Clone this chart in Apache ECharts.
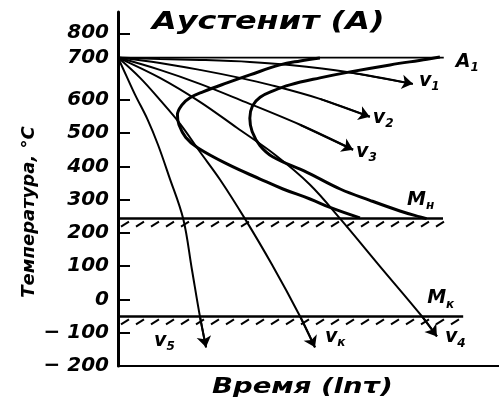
<!DOCTYPE html>
<html>
<head>
<meta charset="utf-8">
<script src="https://cdn.jsdelivr.net/npm/echarts@6/dist/echarts.min.js"></script>
<style>
html, body { margin: 0; padding: 0; background: #fff; }
#chart { width: 499px; height: 401px; }
</style>
</head>
<body>
<div id="chart"></div>
<script>
// шкала температур, °C (700 подписано у линии A1 = 727)
const yTickValues = [-100, 0, 100, 200, 300, 400, 500, 600, 800]
const yLabelValues = [-200, -100, 0, 100, 200, 300, 400, 500, 600, 727, 800]
const yLabelTexts = ['− 200', '− 100', '0', '100', '200', '300', '400', '500', '600', '700', '800']

// горизонтали: [время ln τ, температура]
const a1Line = [[0, 727], [8.55, 727]]
const mnLine = [[0, 243], [8.53, 243]]
const mkLine = [[0, -51], [9.06, -51]]

// С-образные кривые: начало и конец превращения
const startCurve = [[5.30, 726], [4.78, 717], [4.25, 705], [3.46, 675], [2.86, 651], [2.23, 624], [1.89, 606], [1.68, 585], [1.56, 555], [1.60, 525], [1.78, 487], [2.10, 455], [2.90, 405], [3.73, 362], [4.33, 332], [5.04, 302], [5.60, 275], [6.35, 245]]
const endCurve = [[8.45, 729], [8.11, 722], [7.14, 705], [6.09, 684], [5.30, 666], [4.51, 645], [4.07, 627], [3.73, 608], [3.53, 582], [3.46, 545], [3.52, 505], [3.73, 462], [4.07, 428], [4.96, 382], [5.83, 332], [6.61, 298], [7.40, 266], [7.93, 248], [8.10, 243]]

// кривые охлаждения
const v1 = [[0, 727], [1.10, 723], [2.15, 720], [3.46, 714], [4.51, 705], [6.01, 684], [7.74, 648]]
const v2 = [[0, 727], [1.10, 711], [2.15, 690], [3.20, 666], [3.99, 645], [5.30, 603], [6.61, 549]]
const v3 = [[0, 727], [1.10, 690], [2.15, 648], [3.20, 600], [4.78, 525], [6.17, 450]]
const v4 = [[0, 727], [1.10, 666], [2.15, 594], [3.12, 516], [4.12, 435], [5.04, 345], [5.83, 243], [6.88, 99], [7.98, -51], [8.37, -111]]
const vk = [[0, 727], [0.58, 666], [1.10, 600], [1.63, 528], [2.15, 444], [2.68, 360], [3.33, 243], [4.04, 105], [4.78, -51], [5.17, -144]]
const v5 = [[0, 727], [0.22, 672], [0.45, 615], [0.78, 540], [1.05, 465], [1.34, 370], [1.71, 243], [1.94, 90], [2.15, -51], [2.31, -144]]

const FONT = 'DejaVu Sans'
const txt = { fontFamily: FONT, fontStyle: 'italic', fontWeight: 'bold', color: '#000' }
const rich = {
	v: { ...txt, fontSize: 19 },
	s: { ...txt, fontSize: 12, padding: [12, 0, 0, 0] },
}

const chart = echarts.init(document.getElementById('chart'))

const coolLine = (data, sub, offset) => ({
	type: 'line',
	data,
	smooth: 0.35,
	showSymbol: false,
	silent: true,
	lineStyle: { color: '#000', width: 2 },
	endLabel: {
		show: true,
		distance: 0,
		offset,
		formatter: '{v|' + sub[0] + '}{s|' + sub.slice(1) + '}',
		rich,
	},
})

const flatLine = (data, width, label, offset) => ({
	type: 'line',
	data,
	showSymbol: false,
	silent: true,
	lineStyle: { color: '#000', width },
	endLabel: {
		show: true,
		distance: 0,
		offset,
		formatter: '{v|' + label[0] + '}{s|' + label.slice(1) + '}',
		rich,
	},
})

// штриховка под линиями Mн и Mк
const hatch = (params, api) => {
	const p0 = api.coord([api.value(1), api.value(0)])
	const p1 = api.coord([api.value(2), api.value(0)])
	const children = []
	for (let x = p0[0] + 3; x < p1[0] - 6; x += 15) {
		children.push({
			type: 'line',
			shape: { x1: x, y1: p0[1] + 8, x2: x + 8, y2: p0[1] + 3 },
			style: { stroke: '#000', lineWidth: 2 },
		})
	}
	return { type: 'group', children }
}

const arrows = [v1, v2, v3, v4, vk, v5].map((a) => ({ coords: [a[a.length - 2], a[a.length - 1]] }))

chart.setOption({
	animation: false,
	graphic: [
		{
			type: 'text',
			x: 152,
			y: 11,
			scaleX: 1.33,
			style: { text: 'Аустенит (A)', font: 'italic bold 24px "DejaVu Sans"', fill: '#000', align: 'left', verticalAlign: 'top' },
		},
		{
			type: 'text',
			x: 212,
			y: 376,
			scaleX: 1.25,
			style: { text: 'Время (lnτ)', font: 'italic bold 22px "DejaVu Sans"', fill: '#000', align: 'left', verticalAlign: 'top' },
		},
		{
			type: 'text',
			x: 29,
			y: 212,
			rotation: Math.PI / 2,
			style: { text: 'Температура, °С', font: 'italic bold 18px "DejaVu Sans"', fill: '#000', align: 'center', verticalAlign: 'middle' },
		},
	],
	grid: { left: 118, right: 0, top: 12, bottom: 35, outerBoundsMode: 'none' },
	xAxis: {
		type: 'value',
		min: 0,
		max: 10,
		axisLine: { onZero: false, lineStyle: { color: '#000', width: 2 } },
		axisTick: { show: false },
		axisLabel: { show: false },
		splitLine: { show: false },
	},
	yAxis: {
		type: 'value',
		min: -200,
		max: 864,
		axisLine: { show: true, lineStyle: { color: '#000', width: 3 } },
		axisTick: { show: true, inside: true, length: 12, customValues: yTickValues, lineStyle: { color: '#000', width: 2 } },
		axisLabel: {
			customValues: yLabelValues,
			formatter: (v) => yLabelTexts[yLabelValues.indexOf(v)],
			margin: 9,
			...txt,
			fontSize: 20,
		},
		splitLine: { show: false },
	},
	series: [
		flatLine(a1Line, 1.6, 'A1', [12, 4]),
		flatLine(mnLine, 2.5, 'Mн', [-36, -19]),
		flatLine(mkLine, 2.5, 'Mк', [-36, -18]),
		{
			type: 'custom',
			renderItem: hatch,
			encode: { x: [1, 2], y: 0 },
			data: [[243, 0, 8.53], [-51, 0, 9.06]],
			silent: true,
		},
		{ type: 'line', data: startCurve, smooth: 0.4, showSymbol: false, silent: true, lineStyle: { color: '#000', width: 3 } },
		{ type: 'line', data: endCurve, smooth: 0.4, showSymbol: false, silent: true, lineStyle: { color: '#000', width: 3 } },
		coolLine(v1, 'v1', [6, -3]),
		coolLine(v2, 'v2', [3, 1]),
		coolLine(v3, 'v3', [3, 2]),
		coolLine(v4, 'v4', [8, 1]),
		coolLine(vk, 'vк', [10, -10]),
		coolLine(v5, 'v5', [-52, -6]),
		{
			type: 'lines',
			coordinateSystem: 'cartesian2d',
			polyline: false,
			symbol: ['none', 'arrow'],
			symbolSize: 11,
			silent: true,
			lineStyle: { color: '#000', width: 2, opacity: 1 },
			data: arrows,
		},
	],
})
</script>
</body>
</html>
